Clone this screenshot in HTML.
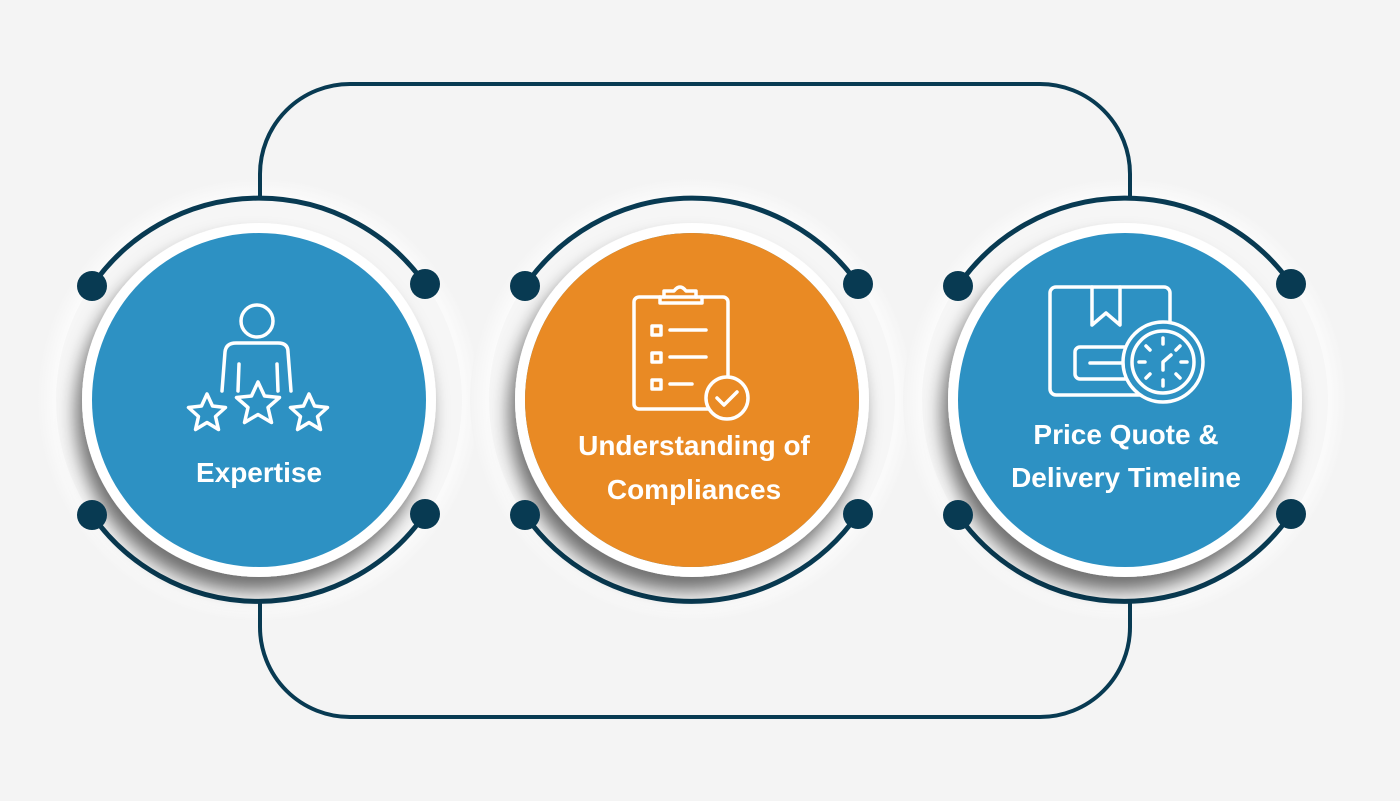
<!DOCTYPE html>
<html><head><meta charset="utf-8"><style>
html,body{margin:0;padding:0;background:#f4f4f4;}
svg{display:block}
text{font-family:"Liberation Sans",sans-serif;font-weight:bold;fill:#fff;text-anchor:middle}
</style></head><body>
<svg width="1400" height="801" viewBox="0 0 1400 801">
<defs>
<radialGradient id="halo" cx="50%" cy="50%" r="50%">
<stop offset="0.9" stop-color="#fcfcfc" stop-opacity="1"/>
<stop offset="1" stop-color="#f4f4f4" stop-opacity="1"/>
</radialGradient>
<filter id="sh" x="-30%" y="-30%" width="160%" height="160%">
<feDropShadow dx="-6" dy="14" stdDeviation="9" flood-color="#000" flood-opacity="0.55"/>
</filter>
</defs>
<rect width="1400" height="801" fill="#f4f4f4"/>
<circle cx="259" cy="400" r="222" fill="url(#halo)"/>
<circle cx="692" cy="400" r="222" fill="url(#halo)"/>
<circle cx="1125" cy="400" r="222" fill="url(#halo)"/>
<rect x="260" y="84" width="870" height="633" rx="90" fill="none" stroke="#083a52" stroke-width="4"/>
<g id="c1">
<circle cx="259" cy="400" r="203" fill="#f6f6f6"/>
<path d="M92,286 A203,203 0 0 1 425,284" fill="none" stroke="#083a52" stroke-width="5"/>
<path d="M92,515 A203,203 0 0 0 425,514" fill="none" stroke="#083a52" stroke-width="5"/>
<circle cx="259" cy="400" r="177" fill="#fff" filter="url(#sh)"/>
<circle cx="259" cy="400" r="167" fill="#2d91c3"/>
<circle cx="92" cy="286" r="15" fill="#083a52"/><circle cx="425" cy="284" r="15" fill="#083a52"/>
<circle cx="92" cy="515" r="15" fill="#083a52"/><circle cx="425" cy="514" r="15" fill="#083a52"/>
</g>
<use href="#c1" x="433"/>
<use href="#c1" x="866"/>
<circle cx="692" cy="400" r="167" fill="#e98a24"/>
<g fill="none" stroke="#fff" stroke-width="3.5" stroke-linecap="round" stroke-linejoin="round">
<circle cx="257" cy="321" r="16"/>
<path d="M222,391 L225,352 Q226,343 236,343 L278,343 Q288,343 288,352 L291,391"/>
<path d="M239,364 L238,391 M277,364 L278,391"/>
<path d="M207,394 l5.5,12 13,1.5 -10,9 3,13 -11.5,-7 -11.5,7 3,-13 -10,-9 13,-1.5z"/>
<path d="M258,382 l6.5,14 15,1.5 -11.5,10 3.5,15 -13.5,-8 -13.5,8 3.5,-15 -11.5,-10 15,-1.5z"/>
<path d="M309,394 l5.5,12 13,1.5 -10,9 3,13 -11.5,-7 -11.5,7 3,-13 -10,-9 13,-1.5z"/>
<rect x="634" y="297" width="94" height="112" rx="5"/>
<path d="M664,297 l0,-6 10,0 q6,-8 12,0 l10,0 0,6 M660,297 l0,6 42,0 0,-6"/>
<rect x="652" y="326" width="9" height="9"/><path d="M670,330 h36"/>
<rect x="652" y="353" width="9" height="9"/><path d="M670,357 h36"/>
<rect x="652" y="380" width="9" height="9"/><path d="M670,384 h22"/>
<circle cx="727" cy="398" r="21" fill="#e98a24"/>
<path d="M717,398 l7,7 13,-13"/>
<rect x="1050" y="287" width="120" height="108" rx="6"/>
<path d="M1092,287 v38 l14,-12 14,12 v-38"/>
<rect x="1075" y="347" width="80" height="32" rx="5"/>
<path d="M1090,363 h50"/>
<circle cx="1163" cy="362" r="40" fill="#2d91c3"/>
<circle cx="1163" cy="362" r="31"/>
<path d="M1163,338 v6 M1163,380 v6 M1139,362 h6 M1181,362 h6 M1146,346 l4,4 M1180,346 l-4,4 M1146,378 l4,-4 M1180,378 l-4,-4"/>
<path d="M1163,370 v-8 l8,-7"/>
</g>
<text x="259" y="482" font-size="28">Expertise</text>
<text x="694" y="455" font-size="28">Understanding of</text>
<text x="694" y="499" font-size="28">Compliances</text>
<text x="1126" y="444" font-size="28">Price Quote &amp;</text>
<text x="1126" y="487" font-size="28">Delivery Timeline</text>
</svg>
</body></html>
